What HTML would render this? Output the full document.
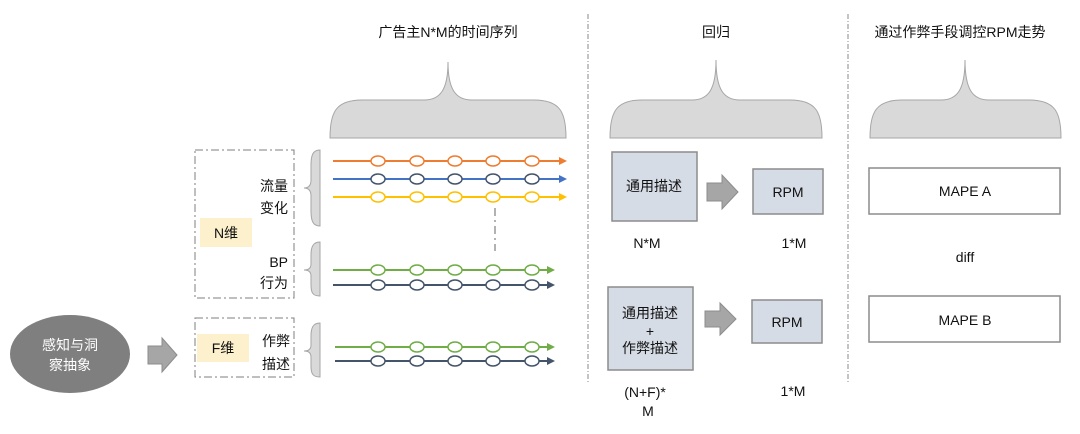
<!DOCTYPE html>
<html><head><meta charset="utf-8"><style>
html,body{margin:0;padding:0;background:#fff;}
svg{display:block;font-family:"Liberation Sans","Noto Sans CJK SC",sans-serif;}
</style></head><body>
<svg width="1080" height="434" viewBox="0 0 1080 434" xmlns="http://www.w3.org/2000/svg">
<defs>
<marker id="mo" markerWidth="8" markerHeight="8" refX="6" refY="4" orient="auto" markerUnits="userSpaceOnUse"><path d="M0,0 L8,4 L0,8Z" fill="#ed7d31"/></marker>
<marker id="mb" markerWidth="8" markerHeight="8" refX="6" refY="4" orient="auto" markerUnits="userSpaceOnUse"><path d="M0,0 L8,4 L0,8Z" fill="#4472c4"/></marker>
<marker id="my" markerWidth="8" markerHeight="8" refX="6" refY="4" orient="auto" markerUnits="userSpaceOnUse"><path d="M0,0 L8,4 L0,8Z" fill="#ffc000"/></marker>
<marker id="mg" markerWidth="8" markerHeight="8" refX="6" refY="4" orient="auto" markerUnits="userSpaceOnUse"><path d="M0,0 L8,4 L0,8Z" fill="#70ad47"/></marker>
<marker id="mn" markerWidth="8" markerHeight="8" refX="6" refY="4" orient="auto" markerUnits="userSpaceOnUse"><path d="M0,0 L8,4 L0,8Z" fill="#44546a"/></marker>
</defs>

<!-- titles -->
<g font-size="14" fill="#111" text-anchor="middle">
<text x="448" y="37">广告主N*M的时间序列</text>
<text x="716" y="37">回归</text>
<text x="960" y="37">通过作弊手段调控RPM走势</text>
</g>

<!-- horizontal braces -->
<g fill="#d9d9d9" stroke="#a6a6a6" stroke-width="1">
<path d="M330,138 C330,112 336,100 362,100 L424,100 C440,100 448,90 448,62 C448,90 456,100 472,100 L534,100 C560,100 566,112 566,138 Z"/>
<path d="M610,138 C610,112 616,100 642,100 L692,100 C708,100 716,90 716,60 C716,90 724,100 740,100 L790,100 C816,100 822,112 822,138 Z"/>
<path d="M870,138 C870,112 876,100 902,100 L941,100 C957,100 965,90 965,60 C965,90 973,100 989,100 L1029,100 C1055,100 1061,112 1061,138 Z"/>
</g>

<!-- dividers -->
<g stroke="#888" stroke-width="1" stroke-dasharray="5,2,1,2">
<line x1="588" y1="14" x2="588" y2="382"/>
<line x1="848" y1="14" x2="848" y2="382"/>
</g>

<!-- left ellipse -->
<ellipse cx="70" cy="354" rx="60" ry="39" fill="#7f7f7f"/>
<g fill="#fff" font-size="14" text-anchor="middle">
<text x="70" y="350">感知与洞</text>
<text x="70" y="370">察抽象</text>
</g>
<path d="M148,346 L162,346 L162,338 L177,355 L162,372 L162,364 L148,364 Z" fill="#a6a6a6" stroke="#8c8c8c"/>

<!-- dashed boxes -->
<g fill="none" stroke="#7f7f7f" stroke-width="1" stroke-dasharray="8,3,2,3">
<rect x="195" y="150" width="99" height="148"/>
<rect x="195" y="318" width="99" height="59"/>
</g>
<rect x="200" y="218" width="52" height="29" fill="#fdf0cc"/>
<rect x="197" y="334" width="52" height="28" fill="#fdf0cc"/>
<g font-size="14" fill="#111" text-anchor="middle">
<text x="226" y="238">N维</text>
<text x="223" y="353">F维</text>
</g>
<g font-size="14" fill="#111" text-anchor="end">
<text x="288" y="191">流量</text>
<text x="288" y="213">变化</text>
<text x="288" y="267">BP</text>
<text x="288" y="288">行为</text>
<text x="290" y="346">作弊</text>
<text x="290" y="369">描述</text>
</g>

<!-- vertical braces -->
<g fill="#d9d9d9" stroke="#a6a6a6" stroke-width="1">
<path d="M320,150 C313,150 311,155 311,165 L311,180 C311,185 309,188 304,188 C309,188 311,191 311,196 L311,211 C311,221 313,226 320,226 Z"/>
<path d="M320,242 C313,242 311,247 311,255 L311,264 C311,268 309,270 304,270 C309,270 311,272 311,276 L311,285 C311,293 313,296 320,296 Z"/>
<path d="M320,323 C313,323 311,328 311,336 L311,345 C311,349 309,351 304,351 C309,351 311,353 311,357 L311,366 C311,374 313,377 320,377 Z"/>
</g>

<!-- series lines -->
<g stroke-width="2" fill="#fff">
<line x1="333" y1="161" x2="565" y2="161" stroke="#ed7d31" marker-end="url(#mo)"/>
<line x1="333" y1="179" x2="565" y2="179" stroke="#4472c4" marker-end="url(#mb)"/>
<line x1="333" y1="197" x2="565" y2="197" stroke="#ffc000" marker-end="url(#my)"/>
<line x1="333" y1="270" x2="553" y2="270" stroke="#70ad47" marker-end="url(#mg)"/>
<line x1="333" y1="285" x2="553" y2="285" stroke="#44546a" marker-end="url(#mn)"/>
<line x1="335" y1="347" x2="553" y2="347" stroke="#70ad47" marker-end="url(#mg)"/>
<line x1="335" y1="361" x2="553" y2="361" stroke="#44546a" marker-end="url(#mn)"/>
</g>
<g fill="#fff" stroke-width="1.5">
<g stroke="#ed7d31"><ellipse cx="378" cy="161" rx="7" ry="5"/><ellipse cx="417" cy="161" rx="7" ry="5"/><ellipse cx="455" cy="161" rx="7" ry="5"/><ellipse cx="493" cy="161" rx="7" ry="5"/><ellipse cx="532" cy="161" rx="7" ry="5"/></g>
<g stroke="#44546a"><ellipse cx="378" cy="179" rx="7" ry="5"/><ellipse cx="417" cy="179" rx="7" ry="5"/><ellipse cx="455" cy="179" rx="7" ry="5"/><ellipse cx="493" cy="179" rx="7" ry="5"/><ellipse cx="532" cy="179" rx="7" ry="5"/></g>
<g stroke="#ffc000"><ellipse cx="378" cy="197" rx="7" ry="5"/><ellipse cx="417" cy="197" rx="7" ry="5"/><ellipse cx="455" cy="197" rx="7" ry="5"/><ellipse cx="493" cy="197" rx="7" ry="5"/><ellipse cx="532" cy="197" rx="7" ry="5"/></g>
<g stroke="#70ad47"><ellipse cx="378" cy="270" rx="7" ry="5"/><ellipse cx="417" cy="270" rx="7" ry="5"/><ellipse cx="455" cy="270" rx="7" ry="5"/><ellipse cx="493" cy="270" rx="7" ry="5"/><ellipse cx="532" cy="270" rx="7" ry="5"/></g>
<g stroke="#44546a"><ellipse cx="378" cy="285" rx="7" ry="5"/><ellipse cx="417" cy="285" rx="7" ry="5"/><ellipse cx="455" cy="285" rx="7" ry="5"/><ellipse cx="493" cy="285" rx="7" ry="5"/><ellipse cx="532" cy="285" rx="7" ry="5"/></g>
<g stroke="#70ad47"><ellipse cx="378" cy="347" rx="7" ry="5"/><ellipse cx="417" cy="347" rx="7" ry="5"/><ellipse cx="455" cy="347" rx="7" ry="5"/><ellipse cx="493" cy="347" rx="7" ry="5"/><ellipse cx="532" cy="347" rx="7" ry="5"/></g>
<g stroke="#44546a"><ellipse cx="378" cy="361" rx="7" ry="5"/><ellipse cx="417" cy="361" rx="7" ry="5"/><ellipse cx="455" cy="361" rx="7" ry="5"/><ellipse cx="493" cy="361" rx="7" ry="5"/><ellipse cx="532" cy="361" rx="7" ry="5"/></g>
</g>
<line x1="495" y1="208" x2="495" y2="251" stroke="#999" stroke-width="1.5" stroke-dasharray="8,4,2,4"/>

<!-- regression -->
<g fill="#d6dce5" stroke="#8c8c8c" stroke-width="1.5">
<rect x="612" y="152" width="85" height="69"/>
<rect x="753" y="169" width="70" height="45"/>
<rect x="608" y="287" width="85" height="83"/>
<rect x="752" y="300" width="70" height="43"/>
</g>
<g fill="#a6a6a6" stroke="#8c8c8c">
<path d="M707,183 L722,183 L722,175 L738,192 L722,209 L722,201 L707,201 Z"/>
<path d="M705,311 L720,311 L720,303 L736,319 L720,335 L720,327 L705,327 Z"/>
</g>
<g font-size="14" fill="#111" text-anchor="middle">
<text x="654" y="191">通用描述</text>
<text x="788" y="197">RPM</text>
<text x="650" y="318">通用描述</text>
<text x="650" y="336">+</text>
<text x="650" y="353">作弊描述</text>
<text x="787" y="327">RPM</text>
<text x="647" y="248">N*M</text>
<text x="794" y="248">1*M</text>
<text x="645" y="397">(N+F)*</text>
<text x="648" y="416">M</text>
<text x="793" y="396">1*M</text>
</g>

<!-- MAPE -->
<g fill="#fff" stroke="#8c8c8c" stroke-width="1.5">
<rect x="869" y="168" width="191" height="46"/>
<rect x="869" y="296" width="191" height="46"/>
</g>
<g font-size="14" fill="#111" text-anchor="middle">
<text x="965" y="196">MAPE A</text>
<text x="965" y="262">diff</text>
<text x="965" y="325">MAPE B</text>
</g>
</svg>
</body></html>
